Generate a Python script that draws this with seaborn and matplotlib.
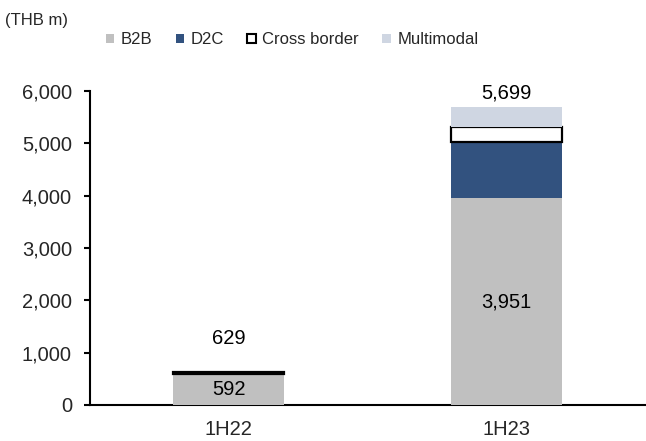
import numpy as np
import pandas as pd
import seaborn as sns
import matplotlib.pyplot as plt
from matplotlib.patches import Patch

periods = ["1H22", "1H23"]
b2b = [592, 3951]
d2c = [0, 1070]
cross_border = [37, 295]
multimodal = [0, 383]
totals = [629, 5699]

series_names = ["B2B", "D2C", "Cross border", "Multimodal"]
colors = {"B2B": "#c0c0c0", "D2C": "#32527f", "Cross border": "#ffffff", "Multimodal": "#cfd6e2"}

sns.set_theme(style="white")
plt.rcParams["font.family"] = ["Liberation Sans", "DejaVu Sans"]

f = plt.figure(figsize=[6.46, 4.41], dpi=100)
ax = f.add_axes([90 / 646, 36 / 441, 555 / 646, 314 / 441])

df = pd.DataFrame({"period": periods, "B2B": b2b, "D2C": d2c,
                   "Cross border": cross_border, "Multimodal": multimodal})

bottom = np.zeros(len(periods))
for name in series_names:
    edge = "black" if name == "Cross border" else "none"
    lw = 1.6 if name == "Cross border" else 0
    sns.barplot(data=df, x="period", y=name, color=colors[name], bottom=bottom,
                width=0.4, errorbar=None, edgecolor=edge, linewidth=lw,
                saturation=1, ax=ax, zorder=3)
    bottom = bottom + df[name].values

num_size = 14.5

# labels
for i, v in enumerate(b2b):
    ax.text(i, v / 2, f"{v:,}", ha="center", va="center", fontsize=num_size, color="black")
total_offsets = [24, 10]
for i, v in enumerate(totals):
    ax.annotate(f"{v:,}", xy=(i, v), xytext=(0, total_offsets[i]), textcoords="offset points",
                ha="center", va="center", fontsize=num_size, color="black")

ax.set_ylim(0, 6000)
ax.set_xlim(-0.5, 1.5)
ax.set_yticks(range(0, 6001, 1000))
ax.set_yticklabels([f"{t:,}" for t in range(0, 6001, 1000)], fontsize=num_size)
ax.set_xticks([0, 1])
ax.set_xticklabels(periods, fontsize=num_size)
ax.set_xticks([-0.5, 0.5, 1.5], minor=True)
ax.tick_params(axis="x", which="major", length=0, pad=11)
ax.tick_params(axis="x", which="minor", length=6, width=1.5, direction="out", color="black")
ax.tick_params(axis="y", length=4, width=1.5, direction="out", color="black", left=True, pad=9)
ax.set_xlabel("")
ax.set_ylabel("")
for s in ["top", "right"]:
    ax.spines[s].set_visible(False)
for s in ["left", "bottom"]:
    ax.spines[s].set_color("black")
    ax.spines[s].set_linewidth(1.5)

handles = [Patch(facecolor=colors[n], edgecolor="black" if n == "Cross border" else colors[n],
                 linewidth=1.5 if n == "Cross border" else 0) for n in series_names]
f.legend(handles, series_names, ncol=4, loc="center", bbox_to_anchor=(292 / 646, 1 - 40 / 441),
         frameon=False, fontsize=12, handlelength=0.5, handleheight=0.5, handletextpad=0.4,
         columnspacing=1.4, borderpad=0, borderaxespad=0)

f.text(5 / 646, 1 - 20 / 441, "(THB m)", ha="left", va="center", fontsize=12)

f.savefig("out.png", dpi=100)
